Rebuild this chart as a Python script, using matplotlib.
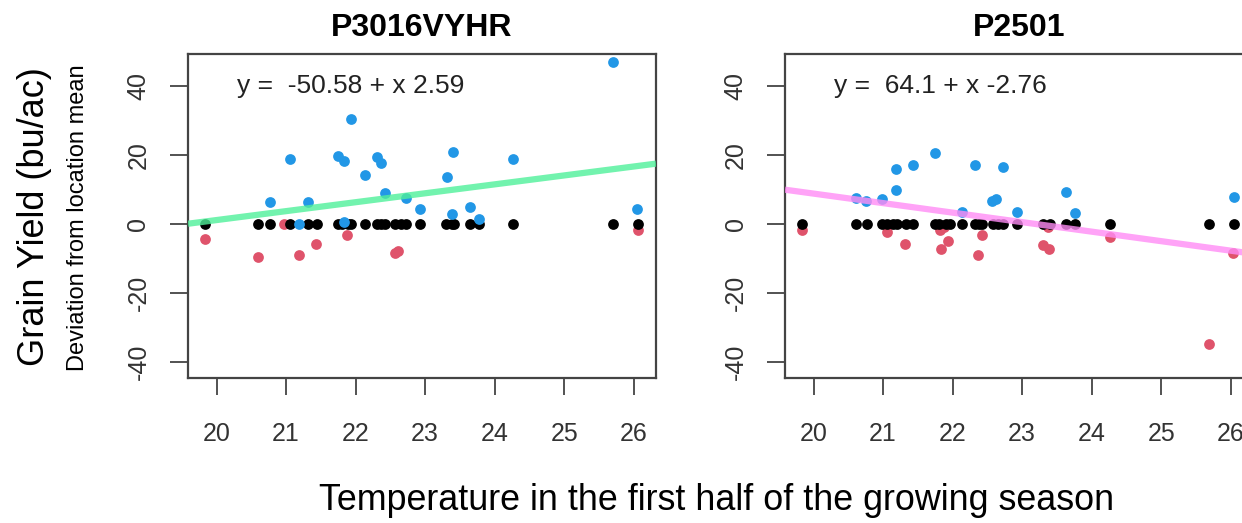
import numpy as np
import matplotlib
matplotlib.use("Agg")
import matplotlib.pyplot as plt

plt.rcParams['font.family'] = ['Liberation Sans', 'DejaVu Sans']

# --- data ---
titles = ["P3016VYHR", "P2501"]
equations = ["y =  -50.58 + x 2.59", "y =  64.1 + x -2.76"]
intercepts = [-50.58, 64.1]
slopes = [2.59, -2.76]
line_colors = ["#4ff09a", "#ff8cf5"]

# P3016VYHR
p1_blue_x = [25.70, 21.93, 21.06, 21.75, 21.83, 22.31, 22.37, 22.14, 23.40, 23.31, 24.26,
             22.43, 22.72, 20.77, 21.32, 22.93, 23.64, 23.38, 23.77, 26.05, 21.19, 21.83]
p1_blue_y = [47.0, 30.6, 18.9, 19.8, 18.4, 19.6, 17.9, 14.3, 21.1, 13.7, 18.8,
             9.1, 7.5, 6.6, 6.6, 4.3, 4.9, 2.9, 1.4, 4.3, 0.0, 0.7]
p1_red_x = [19.84, 20.60, 20.97, 21.19, 21.43, 21.87, 22.56, 22.61, 26.06]
p1_red_y = [-4.2, -9.6, 0.0, -9.0, -5.6, -3.1, -8.4, -7.7, -1.8]
p1_black_x = [19.84, 20.60, 20.77, 21.06, 21.32, 21.44, 21.75, 21.80, 21.89, 21.94, 22.14,
              22.31, 22.37, 22.43, 22.56, 22.65, 22.72, 22.93, 23.30, 23.38, 23.42, 23.64,
              23.77, 24.26, 25.70, 26.06]

# P2501
p2_blue_x = [21.75, 21.18, 21.43, 22.32, 22.72, 21.19, 20.61, 20.76, 20.98, 22.14, 22.57,
             22.62, 22.93, 23.63, 23.76, 26.05]
p2_blue_y = [20.6, 16.1, 17.3, 17.3, 16.7, 9.8, 7.7, 6.7, 7.3, 3.7, 6.7,
             7.2, 3.7, 9.3, 3.4, 8.0]
p2_red_x = [19.84, 21.06, 21.31, 21.83, 21.82, 21.87, 21.93, 22.36, 22.43, 23.30, 23.39,
            23.37, 24.26, 25.69, 26.03]
p2_red_y = [-1.6, -2.1, -5.8, -7.1, -1.6, -0.7, -4.9, -8.9, -3.0, -5.9, -7.1,
            -0.9, -3.8, -34.7, -8.4]
p2_black_x = [19.84, 20.61, 20.77, 20.98, 21.06, 21.14, 21.20, 21.33, 21.43, 21.74, 21.81,
              21.91, 21.96, 22.14, 22.32, 22.38, 22.43, 22.58, 22.65, 22.73, 22.93, 23.30,
              23.40, 23.63, 23.76, 24.26, 25.69, 26.04]

blue_x = [p1_blue_x, p2_blue_x]
blue_y = [p1_blue_y, p2_blue_y]
red_x = [p1_red_x, p2_red_x]
red_y = [p1_red_y, p2_red_y]
black_x = [p1_black_x, p2_black_x]

xticks = [20, 21, 22, 23, 24, 25, 26]
yticks = [-40, -20, 0, 20, 40]

W, H = 1242, 523
fig = plt.figure(figsize=(W / 100, H / 100), dpi=100)

lefts = [188, 785]
for i in range(2):
    ax = fig.add_axes([lefts[i] / W, (H - 378) / H, 468 / W, 324 / H])
    ax.set_xlim(19.59, 26.32)
    ax.set_ylim(-44.6, 49.4)

    ax.scatter(red_x[i], red_y[i], s=60, color="#DF536B", linewidths=0, zorder=2)
    ax.scatter(black_x[i], np.zeros(len(black_x[i])), s=60, color="black", linewidths=0, zorder=3)
    ax.scatter(blue_x[i], blue_y[i], s=60, color="#2297E6", linewidths=0, zorder=4)

    xs = np.array(ax.get_xlim())
    ax.plot(xs, intercepts[i] + slopes[i] * xs, color=line_colors[i], lw=4.5,
            alpha=0.8, solid_capstyle="butt", zorder=5)

    ax.text(20.3, 40, equations[i], fontsize=19, color="#222222", va="center", ha="left")
    ax.set_title(titles[i], fontsize=23, fontweight="bold", pad=13)

    ax.set_xticks(xticks)
    ax.set_yticks(yticks)
    ax.set_yticklabels([str(t) for t in yticks], rotation=90, va="center")
    ax.tick_params(axis="x", length=12, width=1.3, pad=20, labelsize=18,
                   color="#444444", labelcolor="#333333")
    ax.tick_params(axis="y", length=13, width=1.3, pad=14, labelsize=18,
                   color="#444444", labelcolor="#333333")
    for sp in ax.spines.values():
        sp.set_color("#444444")
        sp.set_linewidth(1.6)

fig.text(35 / W, 1 - 217 / H, "Grain Yield (bu/ac)", rotation=90, fontsize=26,
         ha="center", va="center")
fig.text(78 / W, 1 - 218 / H, "Deviation from location mean", rotation=90, fontsize=17,
         ha="center", va="center")
fig.text(717 / W, 1 - 510 / H, "Temperature in the first half of the growing season",
         fontsize=25.8, ha="center", va="baseline")

fig.savefig("out.png", dpi=100)
